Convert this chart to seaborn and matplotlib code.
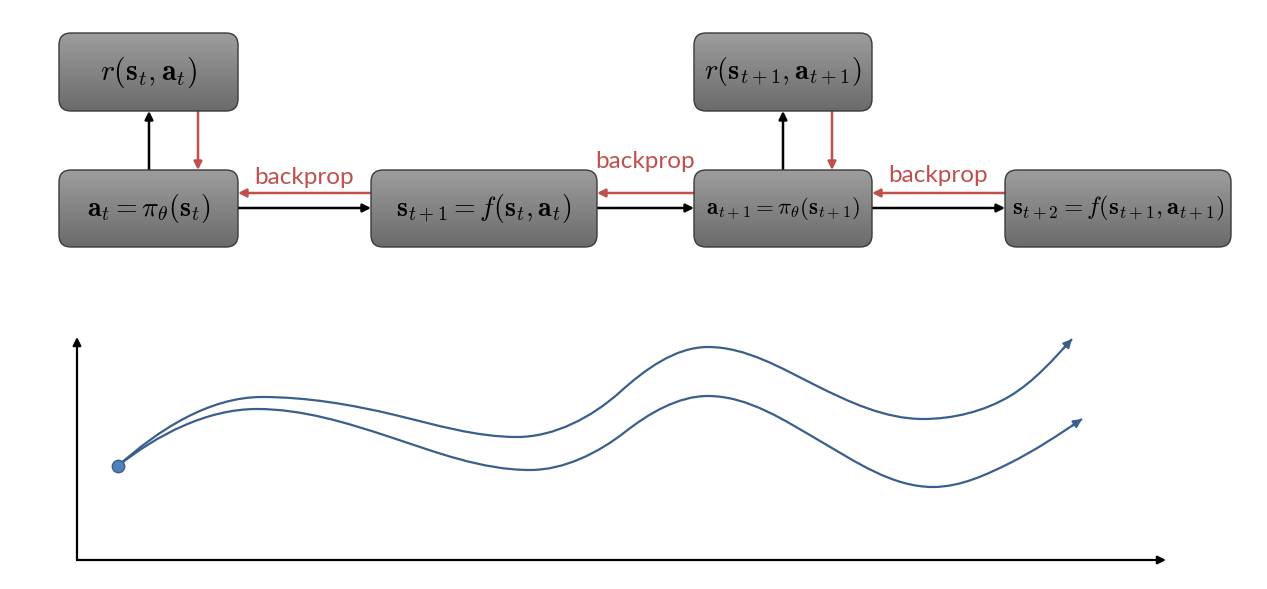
import numpy as np
import seaborn as sns
import matplotlib.pyplot as plt
from matplotlib.patches import FancyBboxPatch, PathPatch
from matplotlib.path import Path
from matplotlib.colors import LinearSegmentedColormap

# box labels (top row: rewards, bottom row: policy / dynamics chain)
reward_labels = [r'$r(\mathbf{s}_t,\mathbf{a}_t)$',
                 r'$r(\mathbf{s}_{t+1},\mathbf{a}_{t+1})$']
chain_labels = [r'$\mathbf{a}_t=\pi_\theta(\mathbf{s}_t)$',
                r'$\mathbf{s}_{t+1}=f(\mathbf{s}_t,\mathbf{a}_t)$',
                r'$\mathbf{a}_{t+1}=\pi_\theta(\mathbf{s}_{t+1})$',
                r'$\mathbf{s}_{t+2}=f(\mathbf{s}_{t+1},\mathbf{a}_{t+1})$']
backprop_label = 'backprop'

# trajectory key points (pixel coords, y down):
# extrema and inflections, with the slope dy/dx seen at each one
upper_x = [118, 262, 395, 517, 620, 708, 815, 923, 1010, 1072]
upper_y = [466, 397, 415, 437, 392, 347, 385, 419, 396, 339]
upper_slope = [-0.9, 0, 0.24, 0, -0.9, 0, 0.5, 0, -0.6, -1.1]
lower_x = [118, 257, 390, 530, 625, 708, 820, 933, 1010, 1082]
lower_y = [466, 409, 437, 470, 432, 396, 441, 487, 463, 419]
lower_slope = [-0.8, 0, 0.33, 0, -0.78, 0, 0.58, 0, -0.5, -0.68]

# layout (pixels): (left, top, width, height)
reward_boxes = [(59, 33, 179, 78), (694, 33, 178, 78)]
chain_boxes = [(59, 170, 179, 77), (371, 170, 226, 77),
               (694, 170, 178, 77), (1005, 170, 226, 77)]
reward_sizes = [21.5, 20.5]
chain_sizes = [20, 20, 16.5, 17.8]

RED = '#c0504d'
CURVE = '#3b5f8c'

sns.set_theme(style='white')
plt.rcParams['mathtext.fontset'] = 'cm'
plt.rcParams['font.family'] = ['Lato', 'DejaVu Sans']

fig = plt.figure(figsize=(12.67, 5.89), dpi=100)
ax = fig.add_axes([0, 0, 1, 1])
ax.set_axis_off()

grad_cmap = LinearSegmentedColormap.from_list('box', ['#9d9d9d', '#6b6b6b'])
grad = np.linspace(0, 1, 64).reshape(-1, 1)


def draw_box(left, top, w, h, label, size):
    patch = FancyBboxPatch((left, top), w, h,
                           boxstyle='round,pad=0,rounding_size=12',
                           facecolor='none', edgecolor='#3a3a3a', lw=1.0, zorder=3)
    ax.add_patch(patch)
    img = ax.imshow(grad, extent=(left, left + w, top + h, top), cmap=grad_cmap,
                    aspect='auto', origin='upper', zorder=2, interpolation='bicubic')
    img.set_clip_path(patch)
    ax.text(left + w / 2, top + h / 2, label, ha='center', va='center',
            fontsize=size, color='black', zorder=4)


def arrow(x0, y0, x1, y1, color, lw=1.8, head=12):
    ax.annotate('', xy=(x1, y1), xytext=(x0, y0),
                arrowprops=dict(arrowstyle='-|>', color=color, lw=lw,
                                mutation_scale=head, shrinkA=0, shrinkB=0),
                zorder=1)


def smooth_curve(xs, ys, slopes, color):
    # cubic (Hermite) segments through the key points with the read slopes
    pts = np.column_stack([xs, ys]).astype(float)
    tang = [np.array([1.0, s]) / np.hypot(1.0, s) for s in slopes]
    verts, codes = [pts[0]], [Path.MOVETO]
    for i in range(len(pts) - 1):
        seg = np.hypot(*(pts[i + 1] - pts[i])) / 3
        verts += [pts[i] + tang[i] * seg, pts[i + 1] - tang[i + 1] * seg, pts[i + 1]]
        codes += [Path.CURVE4] * 3
    ax.add_patch(PathPatch(Path(verts, codes), facecolor='none',
                           edgecolor=color, lw=1.6, zorder=2))
    tail = pts[-1] - tang[-1] * 12
    arrow(tail[0], tail[1], pts[-1][0], pts[-1][1], color, lw=1.6, head=12)


for (l, t, w, h), lab, s in zip(reward_boxes, reward_labels, reward_sizes):
    draw_box(l, t, w, h, lab, s)
for (l, t, w, h), lab, s in zip(chain_boxes, chain_labels, chain_sizes):
    draw_box(l, t, w, h, lab, s)

# vertical arrows between policy boxes and reward boxes
for px in [(149, 198), (783, 832)]:
    arrow(px[0], 170, px[0], 111, 'black')
    arrow(px[1], 111, px[1], 170, RED)

# forward (black) and backprop (red) arrows along the chain
text_y = [177, 161, 176]
for i in range(3):
    l0, t0, w0, h0 = chain_boxes[i]
    l1 = chain_boxes[i + 1][0]
    arrow(l0 + w0, 208, l1, 208, 'black')
    arrow(l1, 193, l0 + w0, 193, RED)
    ax.text((l0 + w0 + l1) / 2, text_y[i], backprop_label, ha='center',
            va='center', fontsize=17.5, color=RED)

# axes of the lower sketch
arrow(77, 560, 1166, 560, 'black', lw=1.6, head=12)
arrow(77, 560, 77, 337, 'black', lw=1.6, head=12)

# trajectories
smooth_curve(upper_x, upper_y, upper_slope, CURVE)
smooth_curve(lower_x, lower_y, lower_slope, CURVE)
sns.scatterplot(x=[upper_x[0]], y=[upper_y[0]], s=80, color='#4f81bd',
                edgecolor=CURVE, linewidth=1, zorder=5, ax=ax)

ax.set_xlim(0, 1267)
ax.set_ylim(589, 0)
ax.set_axis_off()
fig.savefig('out.png', dpi=100, facecolor='white')
